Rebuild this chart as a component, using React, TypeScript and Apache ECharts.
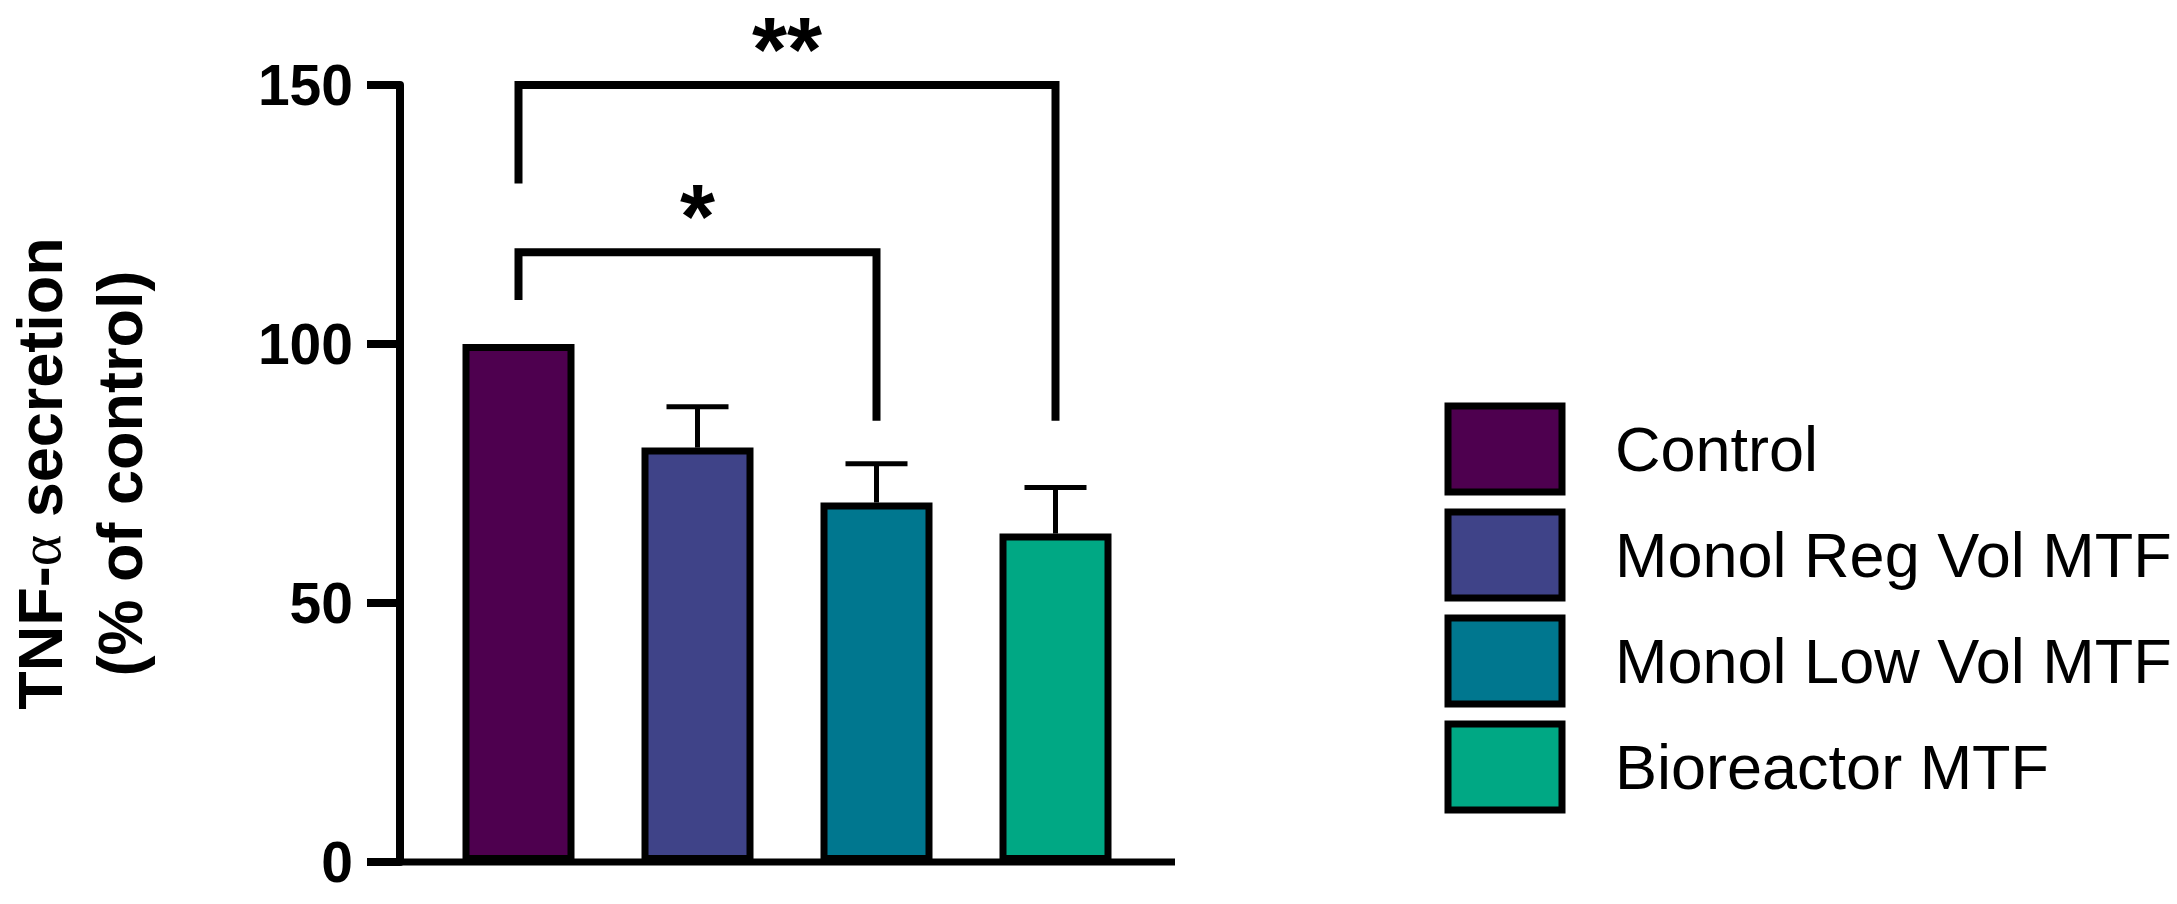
import React, { useEffect, useRef } from "react";
import * as echarts from "echarts";

const categories = ["Control", "Monol Reg Vol MTF", "Monol Low Vol MTF", "Bioreactor MTF"];
const means = [100, 80, 69.4, 63.4];
const upperSD = [null, 87.9, 76.9, 72.3];
const colors = ["#4E004F", "#3F4388", "#00778F", "#00A884"];
const yTicks = [0, 50, 100, 150];

const bracketFrom = [0, 0];
const bracketTo = [2, 3];
const bracketTop = [117.7, 150];
const bracketLeftEnd = [108.5, 131];
const bracketRightEnd = [85.2, 85.2];
const bracketLabels = ["*", "**"];

const FONT = "'Liberation Sans', Arial, Helvetica, sans-serif";

export default function App() {
  const ref = useRef<HTMLDivElement>(null);
  useEffect(() => {
    document.body.style.margin = "0";
    const chart = echarts.init(ref.current!, undefined, { renderer: "svg" });

    const barSeries = categories.map((name, i) => ({
      name,
      type: "bar",
      stack: "s",
      barWidth: 112,
      data: categories.map((_, j) => (j === i ? means[i] : "-")),
      itemStyle: { color: colors[i], borderColor: "#000", borderWidth: 7 },
      silent: true,
      z: 2,
    }));

    const errData = categories
      .map((_, i) => (upperSD[i] == null ? null : [i, means[i], upperSD[i]]))
      .filter((d) => d !== null);

    const errorSeries = {
      type: "custom",
      name: "err",
      data: errData,
      z: 1,
      renderItem: (params: any, api: any) => {
        const x = api.value(0);
        const base = api.coord([x, api.value(1)]);
        const top = api.coord([x, api.value(2)]);
        const half = 31;
        return {
          type: "group",
          children: [
            { type: "line", shape: { x1: base[0], y1: base[1], x2: top[0], y2: top[1] }, style: { stroke: "#000", lineWidth: 5 } },
            { type: "line", shape: { x1: top[0] - half, y1: top[1], x2: top[0] + half, y2: top[1] }, style: { stroke: "#000", lineWidth: 5 } },
          ],
        };
      },
    };

    const bracketData = bracketFrom.map((f, i) => [f, bracketTo[i], bracketTop[i], bracketLeftEnd[i], bracketRightEnd[i], i]);
    const bracketSeries = {
      type: "custom",
      name: "brackets",
      data: bracketData,
      z: 3,
      renderItem: (params: any, api: any) => {
        const f = api.value(0), t = api.value(1);
        const pL = api.coord([f, api.value(3)]);
        const pR = api.coord([t, api.value(4)]);
        const pTL = api.coord([f, api.value(2)]);
        const pTR = api.coord([t, api.value(2)]);
        const label = bracketLabels[api.value(5)];
        return {
          type: "group",
          children: [
            {
              type: "polyline",
              shape: { points: [pL, pTL, pTR, pR] },
              style: { stroke: "#000", lineWidth: 8, fill: "none", lineJoin: "miter" },
            },
            {
              type: "text",
              x: (pTL[0] + pTR[0]) / 2,
              y: pTL[1] - 35,
              style: {
                text: label,
                font: `bold 90px ${FONT}`,
                fill: "#000",
                align: "center",
                verticalAlign: "middle",
              },
            },
          ],
        };
      },
    };

    const option: any = {
      animation: false,
      backgroundColor: "#fff",
      grid: { left: 429, right: 2177 - 1145, top: 85, bottom: 42, containLabel: false },
      xAxis: {
        type: "category",
        data: categories,
        axisLine: { show: false },
        axisTick: { show: false },
        axisLabel: { show: false },
      },
      yAxis: {
        type: "value",
        min: 0,
        max: 150,
        interval: 50,
        offset: 29,
        axisLine: { show: true, lineStyle: { color: "#000", width: 8 } },
        axisTick: { show: true, length: 33, lineStyle: { color: "#000", width: 8 } },
        axisLabel: {
          color: "#000",
          fontSize: 57,
          fontWeight: "bold",
          fontFamily: FONT,
          margin: 47,
          customValues: yTicks,
        },
        splitLine: { show: false },
      },
      legend: {
        data: categories,
        orient: "vertical",
        left: 1439.5,
        top: 397.5,
        itemWidth: 114,
        itemHeight: 86,
        itemGap: 13,
        icon: "rect",
        selectedMode: false,
        itemStyle: { borderColor: "#000", borderWidth: 7 },
        textStyle: { fontSize: 63, fontFamily: FONT, color: "#000", padding: [0, 0, 0, 48] },
      },
      series: [...barSeries, errorSeries, bracketSeries],
    };
    chart.setOption(option);

    const y0 = chart.convertToPixel({ yAxisIndex: 0 }, 0) as number;
    const y150 = chart.convertToPixel({ yAxisIndex: 0 }, 150) as number;
    chart.setOption({
      graphic: [
        {
          type: "line",
          shape: { x1: 400 - 4, y1: y0, x2: 1175, y2: y0 },
          style: { stroke: "#000", lineWidth: 7 },
          z: 5,
        },
        {
          type: "text",
          x: 80,
          y: (y0 + y150) / 2,
          rotation: Math.PI / 2,
          style: {
            text: "{b|TNF-}{a|α}{b| secretion}\n{b|(% of control)}",
            align: "center",
            verticalAlign: "middle",
            fill: "#000",
            rich: {
              b: { font: `bold 63px ${FONT}`, lineHeight: 80, fill: "#000" },
              a: { font: `60px 'Liberation Serif', 'DejaVu Serif', serif`, lineHeight: 80, fill: "#000" },
            },
          },
        },
      ],
    });

    return () => chart.dispose();
  }, []);
  return <div ref={ref} style={{ width: 2177, height: 904 }} />;
}
